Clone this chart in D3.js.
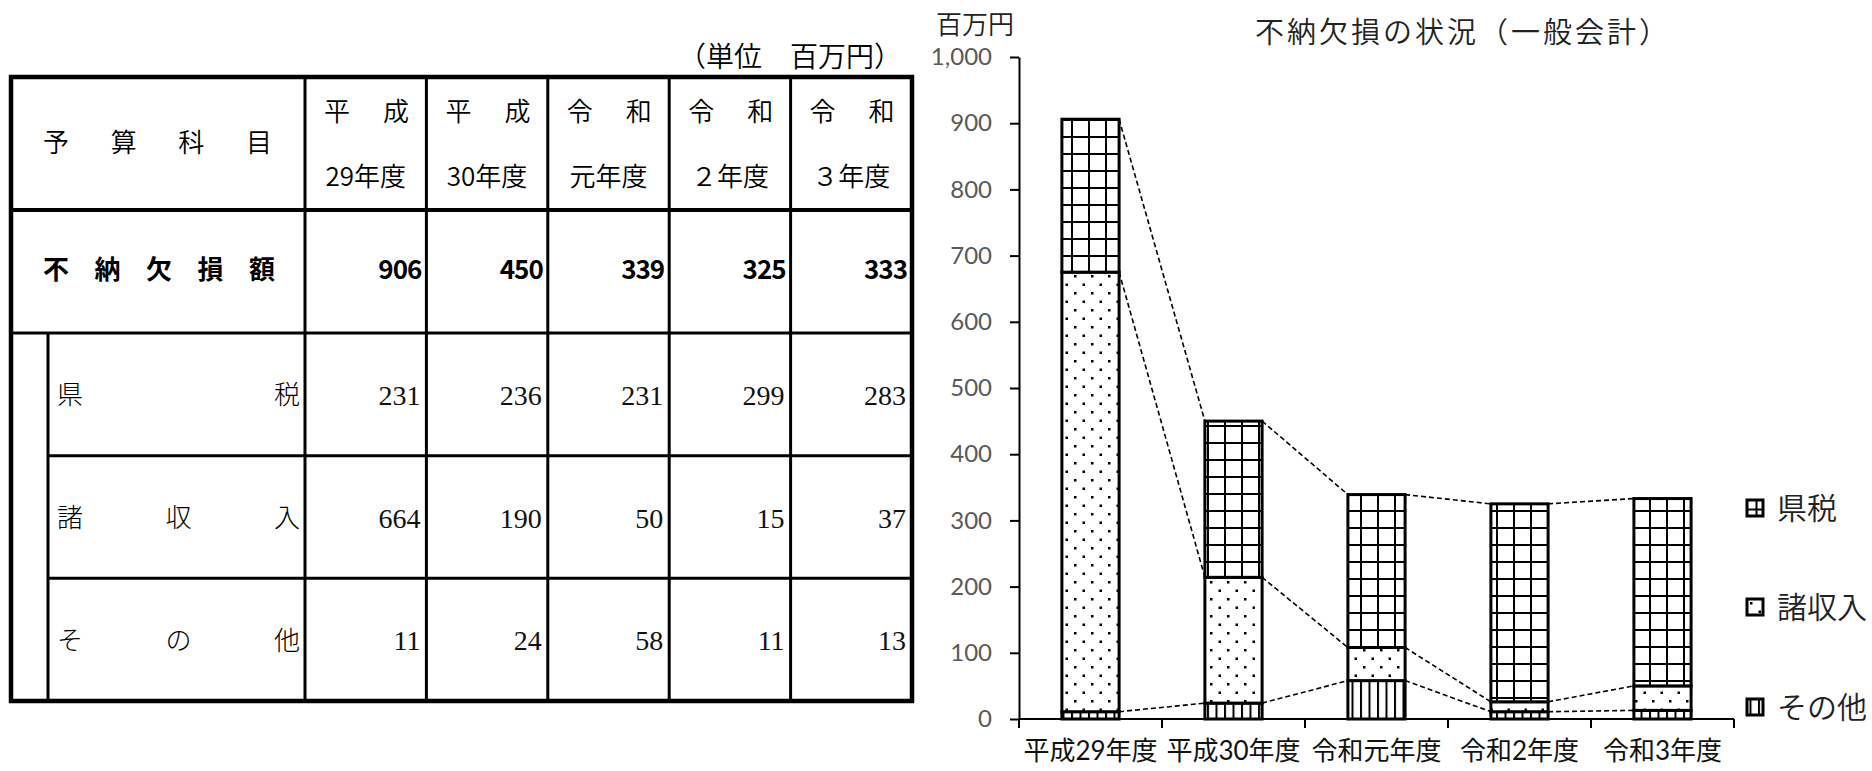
<!DOCTYPE html>
<html>
<head>
<meta charset="utf-8">
<script src="https://cdn.jsdelivr.net/npm/d3@7"></script>
<style>
body { margin: 0; background: #fff; }
text { font-family: "Noto Sans CJK JP", sans-serif; }
</style>
</head>
<body>
<script>
// 不納欠損の状況（一般会計） 単位：百万円
var years = ["平成29年度", "平成30年度", "令和元年度", "令和2年度", "令和3年度"];
var headTop = ["平成", "平成", "令和", "令和", "令和"];
var headBottom = ["29年度", "30年度", "元年度", "２年度", "３年度"];
var items = ["県税", "諸収入", "その他"];
var totals = [906, 450, 339, 325, 333];
var kenzei = [231, 236, 231, 299, 283];
var shoshunyu = [664, 190, 50, 15, 37];
var sonota = [11, 24, 58, 11, 13];
var yTicks = [0, 100, 200, 300, 400, 500, 600, 700, 800, 900, 1000];

var W = 1872, H = 771;

var svg = d3.select("body")
    .append("svg")
    .attr("width", W)
    .attr("height", H);

// ---------- patterns ----------
var defs = svg.append("defs");

var pGrid = defs.append("pattern")
    .attr("id", "grid")
    .attr("patternUnits", "userSpaceOnUse")
    .attr("width", 17).attr("height", 17);
pGrid.append("rect").attr("width", 17).attr("height", 17).attr("fill", "#fff");
pGrid.append("rect").attr("x", 0).attr("y", 0).attr("width", 2).attr("height", 17).attr("fill", "#000");
pGrid.append("rect").attr("x", 0).attr("y", 0).attr("width", 17).attr("height", 2).attr("fill", "#000");

var pDots = defs.append("pattern")
    .attr("id", "dots")
    .attr("patternUnits", "userSpaceOnUse")
    .attr("width", 17).attr("height", 17);
pDots.append("rect").attr("width", 17).attr("height", 17).attr("fill", "#fff");
pDots.append("rect").attr("x", 3).attr("y", 3).attr("width", 2.5).attr("height", 2.5).attr("fill", "#000");
pDots.append("rect").attr("x", 11.5).attr("y", 11.5).attr("width", 2.5).attr("height", 2.5).attr("fill", "#000");

var pVert = defs.append("pattern")
    .attr("id", "vlines")
    .attr("patternUnits", "userSpaceOnUse")
    .attr("width", 8.5).attr("height", 8.5);
pVert.append("rect").attr("width", 8.5).attr("height", 8.5).attr("fill", "#fff");
pVert.append("rect").attr("x", 0).attr("y", 0).attr("width", 2).attr("height", 8.5).attr("fill", "#000");

// ---------- table ----------
var tbl = svg.append("g").attr("class", "table");
var tLeft = 11, tRight = 912, tTop = 77, tHead = 210, tTotal = 333, tBottom = 701, indentX = 48;

var colX = d3.scaleBand().domain(years).range([305, tRight]);
var rowY = d3.scaleBand().domain(items).range([tTotal, tBottom]);

tbl.append("text")
    .attr("x", 902).attr("y", 57).attr("dy", "0.35em")
    .attr("text-anchor", "end")
    .attr("font-size", 28).attr("font-weight", 350)
    .text("（単位　百万円）");

// grid lines
tbl.selectAll(".vline")
    .data(years)
    .enter()
    .append("line")
    .attr("x1", function(d){ return colX(d); })
    .attr("x2", function(d){ return colX(d); })
    .attr("y1", tTop).attr("y2", tBottom)
    .attr("stroke", "#000").attr("stroke-width", 3);

tbl.append("line")
    .attr("x1", indentX).attr("x2", indentX)
    .attr("y1", tTotal).attr("y2", tBottom)
    .attr("stroke", "#000").attr("stroke-width", 3);

tbl.selectAll(".hline")
    .data(items.slice(1))
    .enter()
    .append("line")
    .attr("x1", indentX).attr("x2", tRight)
    .attr("y1", function(d){ return rowY(d); })
    .attr("y2", function(d){ return rowY(d); })
    .attr("stroke", "#000").attr("stroke-width", 3);

tbl.append("line")
    .attr("x1", tLeft).attr("x2", tRight)
    .attr("y1", tHead).attr("y2", tHead)
    .attr("stroke", "#000").attr("stroke-width", 4);

tbl.append("line")
    .attr("x1", tLeft).attr("x2", tRight)
    .attr("y1", tTotal).attr("y2", tTotal)
    .attr("stroke", "#000").attr("stroke-width", 3);

tbl.append("rect")
    .attr("x", tLeft).attr("y", tTop)
    .attr("width", tRight - tLeft).attr("height", tBottom - tTop)
    .attr("fill", "none")
    .attr("stroke", "#000").attr("stroke-width", 4.5);

// spread characters of a label across a cell
function spread(g, label, x0, x1, y, size, weight) {
    var chars = label.split("");
    var sx = d3.scalePoint().domain(d3.range(chars.length)).range([x0, x1]);
    g.selectAll(null)
        .data(chars)
        .enter()
        .append("text")
        .attr("x", function(d, i){ return sx(i); })
        .attr("y", y)
        .attr("dy", "0.35em")
        .attr("text-anchor", "middle")
        .attr("font-size", size)
        .attr("font-weight", weight)
        .text(function(d){ return d; });
}

spread(tbl, "予算科目", 56, 259, 143, 26, 350);
spread(tbl, "不納欠損額", 56, 262, 270, 26, 700);
items.forEach(function(it){
    spread(tbl, it, 70, 287, rowY(it) + rowY.bandwidth() / 2 + 1, 26, 300);
});

years.forEach(function(y, i){
    var cx = colX(y);
    spread(tbl, headTop[i], cx + 32, cx + 91, 112, 26, 350);
    tbl.append("text")
        .attr("x", cx + colX.bandwidth() / 2).attr("y", 177).attr("dy", "0.35em")
        .attr("text-anchor", "middle")
        .attr("font-size", 26).attr("font-weight", 350)
        .text(headBottom[i]);
});

tbl.selectAll(".total")
    .data(totals)
    .enter()
    .append("text")
    .attr("x", function(d, i){ return colX(years[i]) + colX.bandwidth() - 5; })
    .attr("y", 270).attr("dy", "0.35em")
    .attr("text-anchor", "end")
    .attr("font-size", 26).attr("font-weight", 700)
    .attr("letter-spacing", -1)
    .text(function(d){ return d; });

var subRows = [kenzei, shoshunyu, sonota];
subRows.forEach(function(vals, r){
    tbl.selectAll(null)
        .data(vals)
        .enter()
        .append("text")
        .attr("x", function(d, i){ return colX(years[i]) + colX.bandwidth() - 6; })
        .attr("y", rowY(items[r]) + rowY.bandwidth() / 2 + 1)
        .attr("dy", "0.35em")
        .attr("text-anchor", "end")
        .style("font-family", "'Liberation Serif', serif")
        .attr("font-size", 28)
        .attr("fill", "#111")
        .text(function(d){ return d; });
});

// ---------- chart ----------
var chart = svg.append("g").attr("class", "chart");
var x0 = 1019, x1 = 1734, yBase = 719, yTop = 57;

var x = d3.scaleBand()
    .domain(years)
    .range([x0, x1])
    .paddingInner(0.6)
    .paddingOuter(0.3);

var y = d3.scaleLinear()
    .domain([0, 1000])
    .range([yBase, yTop]);

var rows = years.map(function(yr, i){
    return { year: yr, sonota: sonota[i], shoshunyu: shoshunyu[i], kenzei: kenzei[i] };
});
var keys = ["sonota", "shoshunyu", "kenzei"];
var fills = { sonota: "url(#vlines)", shoshunyu: "url(#dots)", kenzei: "url(#grid)" };
var layers = d3.stack().keys(keys)(rows);

// y axis
var yAxis = d3.axisLeft(y)
    .tickValues(yTicks)
    .tickSize(9)
    .tickSizeOuter(0)
    .tickPadding(18)
    .tickFormat(d3.format(","));

var gy = chart.append("g")
    .attr("transform", "translate(" + x0 + ",0)")
    .call(yAxis);
gy.select(".domain").attr("stroke", "#000").attr("stroke-width", 2);
gy.selectAll(".tick line").attr("stroke", "#000").attr("stroke-width", 2);
gy.selectAll(".tick text")
    .attr("fill", "#595959")
    .attr("font-size", 24)
    .style("font-family", "Lato, 'Noto Sans CJK JP', sans-serif");

chart.append("text")
    .attr("x", 975).attr("y", 25).attr("dy", "0.35em")
    .attr("text-anchor", "middle")
    .attr("font-size", 26).attr("font-weight", 350)
    .attr("fill", "#222")
    .text("百万円");

chart.append("text")
    .attr("x", 1255).attr("y", 33).attr("dy", "0.35em")
    .attr("font-size", 29).attr("font-weight", 350)
    .attr("letter-spacing", 3)
    .attr("fill", "#222")
    .text("不納欠損の状況（一般会計）");

// bars
layers.forEach(function(layer){
    chart.append("g")
        .selectAll("rect")
        .data(layer)
        .enter()
        .append("rect")
        .attr("x", function(d){ return x(d.data.year); })
        .attr("y", function(d){ return y(d[1]); })
        .attr("width", x.bandwidth())
        .attr("height", function(d){ return y(d[0]) - y(d[1]); })
        .attr("fill", fills[layer.key])
        .attr("stroke", "#000")
        .attr("stroke-width", 3);
});

// dashed series lines between bars
layers.forEach(function(layer){
    var segs = d3.pairs(layer);
    chart.append("g")
        .selectAll("line")
        .data(segs)
        .enter()
        .append("line")
        .attr("x1", function(d){ return x(d[0].data.year) + x.bandwidth(); })
        .attr("y1", function(d){ return y(d[0][1]); })
        .attr("x2", function(d){ return x(d[1].data.year); })
        .attr("y2", function(d){ return y(d[1][1]); })
        .attr("stroke", "#000")
        .attr("stroke-width", 1.6)
        .attr("stroke-dasharray", "5,3");
});

// x axis
var xAxis = d3.axisBottom(x).tickSize(0).tickPadding(23);
var gx = chart.append("g")
    .attr("transform", "translate(0," + yBase + ")")
    .call(xAxis);
gx.select(".domain").remove();
gx.selectAll(".tick text")
    .attr("fill", "#111")
    .attr("font-size", 26)
    .attr("font-weight", 400)
    .style("font-family", "Lato, 'Noto Sans CJK JP', sans-serif");

chart.append("line")
    .attr("x1", x0).attr("x2", x1)
    .attr("y1", yBase).attr("y2", yBase)
    .attr("stroke", "#000").attr("stroke-width", 2);

var bounds = years.map(function(d){ return x(d) - x.step() * x.paddingInner() / 2; });
bounds.push(x1);
chart.append("g")
    .selectAll("line")
    .data(bounds)
    .enter()
    .append("line")
    .attr("x1", function(d){ return d; })
    .attr("x2", function(d){ return d; })
    .attr("y1", yBase).attr("y2", yBase + 9)
    .attr("stroke", "#000").attr("stroke-width", 2);

// legend (top item first)
var legendItems = [
    { label: "県税", fill: "url(#grid)", off: 8.5 },
    { label: "諸収入", fill: "url(#dots)", off: 0 },
    { label: "その他", fill: "url(#vlines)", off: 2.5 }
];
var legendY = [508, 607, 707];

var lg = chart.append("g")
    .selectAll("g")
    .data(legendItems)
    .enter()
    .append("g")
    .attr("transform", function(d, i){ return "translate(1747," + (legendY[i] - 8) + ")"; });

lg.append("rect")
    .attr("x", function(d){ return -d.off; })
    .attr("y", function(d){ return -d.off; })
    .attr("width", 16).attr("height", 16)
    .attr("fill", function(d){ return d.fill; })
    .attr("stroke", "#000")
    .attr("stroke-width", 3)
    .attr("transform", function(d){ return "translate(" + d.off + "," + d.off + ")"; });

lg.append("text")
    .attr("x", 30).attr("y", 8).attr("dy", "0.35em")
    .attr("font-size", 30).attr("font-weight", 350)
    .attr("fill", "#222")
    .text(function(d){ return d.label; });
</script>
</body>
</html>
